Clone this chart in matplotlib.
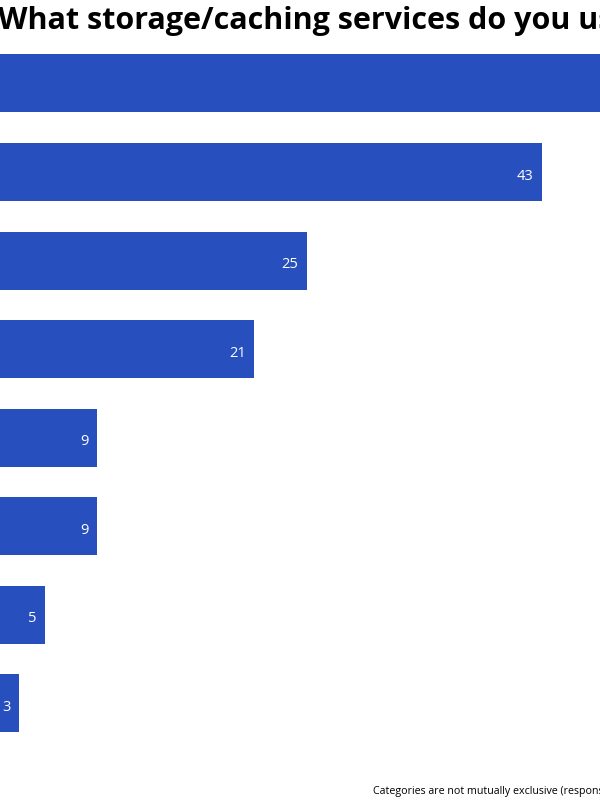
import matplotlib
matplotlib.use("Agg")
import matplotlib.pyplot as plt

# data (first bar runs off the picture, its value is a guess)
services = ["AWS S3", "Redis", "Cloudflare R2", "Google Cloud Storage",
            "Memcached", "Azure Blob Storage", "Backblaze B2", "Other"]
counts = [55, 43, 25, 21, 9, 9, 5, 3]
labels = ["55", "43", "25", "21", "9", "9", "5", "3"]

bar_color = "#2750be"
plt.rcParams["font.family"] = ["Open Sans", "DejaVu Sans"]

fig = plt.figure(figsize=(6, 8), dpi=100)
# axes is wider than the figure on the left: the picture is a crop,
# so the category names and the first value end up outside it
ax = fig.add_axes([-20.2 / 600, 0.05, 653.75 / 600, 0.9])

ypos = list(range(len(services)))
ax.barh(ypos, counts, height=0.655, color=bar_color)
for y, v, t in zip(ypos, counts, labels):
    ax.text(v - 0.65, y + 0.045, t, color="white", ha="right", va="center",
            fontsize=10.5)

ax.set_xlim(0, 50)
ax.set_ylim(7.638, -0.491)
ax.set_yticks(ypos)
ax.set_yticklabels(services, fontsize=10.5)
ax.set_xticks([])
ax.tick_params(left=False)
for s in ax.spines.values():
    s.set_visible(False)

fig.text(-0.004, 1 - 29 / 800, "What storage/caching services do you use?",
         fontsize=22, fontweight="bold", ha="left", va="baseline")
fig.text(373 / 600, 1 - 794 / 800,
         "Categories are not mutually exclusive (responses may add up to more than 100%)",
         fontsize=7.7, ha="left", va="baseline")

fig.savefig("out.png", dpi=100)
